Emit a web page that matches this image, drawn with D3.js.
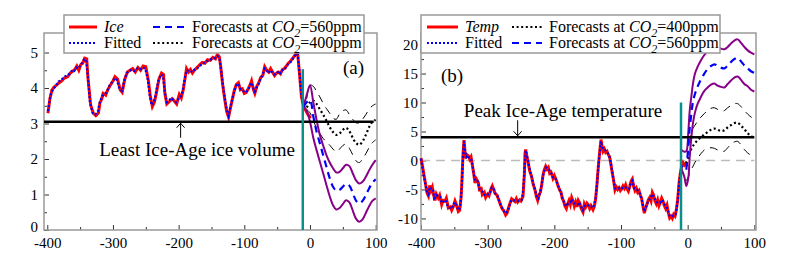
<!DOCTYPE html>
<html>
<head>
<meta charset="utf-8">
<script src="https://cdn.jsdelivr.net/npm/d3@7"></script>
<style>
  body { margin: 0; background: #fff; }
  svg, text { font-family: "Liberation Serif", "Times New Roman", serif; }
</style>
</head>
<body>
<svg id="chart" width="790" height="264"></svg>
<script>

// ---- panel (a): ice volume, [kyr, value]
var iceObs = [[-399,3.29],[-396,3.7],[-393,3.94],[-390,4.02],[-386,4.08],[-382,4.15],[-378,4.2],[-374,4.28],[-369,4.32],[-365,4.42],[-361,4.48],[-358,4.52],[-355,4.62],[-352,4.5],[-349,4.66],[-346,4.7],[-343,4.84],[-340,4.82],[-338,4.27],[-334,3.52],[-330,3.29],[-326,3.22],[-322,3.3],[-320,3.57],[-317,3.7],[-315,3.85],[-311,3.8],[-308,3.95],[-305,4.05],[-300,4.2],[-297,4.32],[-293,4.25],[-289,3.95],[-286,3.88],[-282,4.25],[-278,4.45],[-274,4.5],[-270,4.55],[-266,4.45],[-262,4.58],[-258,4.5],[-254,4.62],[-250,4.6],[-246,4.2],[-243,3.75],[-240,3.48],[-237,3.6],[-234,3.85],[-230,4.25],[-226,4.42],[-223,4.38],[-221,3.85],[-218,3.55],[-214,3.62],[-210,3.7],[-206,3.62],[-203,3.55],[-199,3.82],[-196,3.72],[-193,3.95],[-190,4.3],[-188,4.55],[-185,4.45],[-182,4.52],[-179,4.42],[-176,4.5],[-172,4.58],[-168,4.65],[-164,4.72],[-160,4.7],[-156,4.8],[-152,4.78],[-148,4.86],[-144,4.82],[-141,4.95],[-138,4.88],[-136,4.6],[-133,4.1],[-130,3.7],[-127,3.35],[-124,3.18],[-121,3.45],[-118,3.7],[-115,3.95],[-112,4.1],[-109,4.15],[-106,3.95],[-103,3.98],[-100,3.85],[-97,3.88],[-94,3.98],[-91,4.1],[-89,4.2],[-86,3.95],[-84,3.85],[-81,4.05],[-78,4.15],[-75,4.3],[-72,4.35],[-69,4.6],[-66,4.5],[-63,4.45],[-60,4.55],[-57,4.45],[-54,4.35],[-51,4.42],[-48,4.45],[-45,4.4],[-42,4.52],[-39,4.55],[-36,4.62],[-33,4.7],[-30,4.75],[-27,4.82],[-24,4.9],[-21,4.98],[-19,5.02],[-16,4.4],[-13,3.75],[-10,3.5],[-6,3.35],[-3,3.25],[1,3.15]];

var iceFit = [[-399,3.35],[-395,3.8],[-391,3.98],[-387,4.05],[-383,4.18],[-379,4.22],[-375,4.3],[-370,4.36],[-366,4.4],[-362,4.5],[-359,4.48],[-356,4.58],[-353,4.55],[-350,4.62],[-347,4.72],[-344,4.8],[-341,4.8],[-338,4.3],[-335,3.6],[-331,3.3],[-327,3.25],[-323,3.35],[-320,3.6],[-316,3.78],[-313,3.82],[-309,3.9],[-305,4.08],[-301,4.18],[-297,4.28],[-294,4.22],[-290,3.98],[-286,3.92],[-283,4.2],[-279,4.42],[-275,4.48],[-271,4.52],[-267,4.48],[-263,4.55],[-259,4.52],[-255,4.58],[-251,4.55],[-247,4.25],[-244,3.8],[-241,3.52],[-238,3.58],[-235,3.82],[-231,4.2],[-227,4.38],[-224,4.35],[-221,3.9],[-218,3.6],[-215,3.65],[-211,3.72],[-207,3.65],[-204,3.6],[-200,3.7],[-197,3.75],[-194,3.9],[-191,4.25],[-188,4.5],[-185,4.48],[-182,4.48],[-179,4.45],[-176,4.52],[-172,4.55],[-168,4.62],[-164,4.68],[-160,4.72],[-156,4.76],[-152,4.8],[-148,4.82],[-144,4.85],[-141,4.9],[-138,4.85],[-136,4.62],[-133,4.15],[-130,3.75],[-127,3.4],[-124,3.22],[-121,3.48],[-118,3.72],[-115,3.92],[-112,4.08],[-109,4.12],[-106,3.98],[-103,3.95],[-100,3.88],[-97,3.9],[-94,3.95],[-91,4.08],[-89,4.15],[-86,3.98],[-84,3.9],[-81,4.02],[-78,4.12],[-75,4.28],[-72,4.38],[-69,4.55],[-66,4.5],[-63,4.42],[-60,4.5],[-57,4.42],[-54,4.38],[-51,4.4],[-48,4.48],[-45,4.42],[-42,4.5],[-39,4.52],[-36,4.6],[-33,4.68],[-30,4.72],[-27,4.8],[-24,4.88],[-21,4.95],[-19,4.98],[-16,4.45],[-13,3.8],[-10,3.45]];

// forecast years shared by panel (a) forecasts
var iceYears = [-10,-5,0,5,10,15,20,25,30,35,40,45,50,55,60,65,70,75,80,85,90,95,100];
var ice560Hi  = [3.47,3.8,4.08,3.6,3.1,2.68,2.38,2.11,1.9,1.74,1.62,1.64,1.74,1.84,1.8,1.6,1.4,1.31,1.36,1.5,1.68,1.84,1.97];
var ice560    = [3.47,3.6,3.66,3.2,2.77,2.44,2.11,1.78,1.46,1.22,1.11,1.13,1.22,1.3,1.25,1.05,0.83,0.75,0.82,0.98,1.17,1.33,1.43];
var ice560Lo  = [3.47,3.35,3.05,2.6,2.25,1.92,1.6,1.27,0.95,0.7,0.58,0.62,0.73,0.84,0.78,0.55,0.32,0.23,0.3,0.48,0.67,0.82,0.89];
var ice400Hi  = [null,3.7,4.08,4.05,3.9,3.75,3.57,3.42,3.29,3.15,3.12,3.27,3.36,3.38,3.25,3.12,3.02,3.02,3.12,3.25,3.4,3.5,3.55];
var ice400    = [null,3.45,3.6,3.64,3.55,3.4,3.25,3.08,2.9,2.76,2.68,2.72,2.82,2.88,2.78,2.6,2.45,2.4,2.5,2.68,2.9,3.05,3.1];
var ice400Lo  = [null,3.4,3.3,3.1,2.86,2.72,2.58,2.48,2.39,2.28,2.2,2.28,2.38,2.42,2.3,2.12,1.95,1.9,2.0,2.15,2.32,2.46,2.54];

// ---- panel (b): temperature
var tempObs = [[-400,0.4],[-398,-0.8],[-396,-2.2],[-393,-4.2],[-391,-5.6],[-389,-6.1],[-387,-4.3],[-385,-5.2],[-383,-4.6],[-381,-6.0],[-379,-6.9],[-377,-5.8],[-374,-6.5],[-372,-6.0],[-369,-7.6],[-367,-6.9],[-364,-7.0],[-362,-6.5],[-359,-8.2],[-356,-8.0],[-354,-8.6],[-351,-7.8],[-349,-7.0],[-347,-7.6],[-344,-8.8],[-342,-8.6],[-340,-6.5],[-339,-4.5],[-337,1.0],[-335.5,3.5],[-334,1.5],[-333,0.4],[-331,1.0],[-329,0.8],[-327,0.2],[-325,0.6],[-323,-0.8],[-321,-2.2],[-319,-3.9],[-317,-3.2],[-314,-3.8],[-312,-5.3],[-310,-4.6],[-308,-5.9],[-305,-5.5],[-303,-6.4],[-300,-5.8],[-298,-6.1],[-295,-4.9],[-293,-4.4],[-291,-5.0],[-289,-5.7],[-286,-6.0],[-283,-6.9],[-281,-7.6],[-278,-8.4],[-276,-8.6],[-273,-9.4],[-271,-9.1],[-268,-7.9],[-266,-7.2],[-264,-6.6],[-262,-6.8],[-259,-7.1],[-257,-6.6],[-255,-7.2],[-252,-6.8],[-250,-7.0],[-247,-6.2],[-245,-2.5],[-244,1.2],[-243,1.9],[-241,0.6],[-239,-0.5],[-237,-1.8],[-234,-2.8],[-232,-4.0],[-229,-5.1],[-227,-6.2],[-225,-6.9],[-223,-6.0],[-221,-5.5],[-219,-4.3],[-217,-2.5],[-215,-1.6],[-213,-1.0],[-211,-1.5],[-209,-1.2],[-207,-2.2],[-205,-2.0],[-202,-3.1],[-200,-2.6],[-197,-3.4],[-195,-4.2],[-192,-5.1],[-190,-5.5],[-188,-6.6],[-186,-7.0],[-184,-7.9],[-182,-8.3],[-180,-7.5],[-178,-6.9],[-176,-7.6],[-174,-6.4],[-172,-7.0],[-170,-7.9],[-168,-7.2],[-166,-8.0],[-164,-6.9],[-162,-7.3],[-160,-8.2],[-157,-8.9],[-155,-7.5],[-153,-8.0],[-151,-7.4],[-149,-7.7],[-147,-8.3],[-145,-7.8],[-142,-8.5],[-140,-7.9],[-138,-6.6],[-136,-4.0],[-134,-1.0],[-132,1.5],[-130,3.6],[-128,2.2],[-127,1.6],[-125,2.0],[-123,1.4],[-121,1.6],[-119,1.0],[-117,0.6],[-115,-0.8],[-113,-2.2],[-111,-3.5],[-109,-5.1],[-107,-4.6],[-105,-5.0],[-103,-4.7],[-101,-5.2],[-99,-4.9],[-97,-4.4],[-95,-4.8],[-93,-4.2],[-91,-4.9],[-89,-5.3],[-87,-4.5],[-85,-3.6],[-83,-3.2],[-81,-4.5],[-79,-5.2],[-77,-4.8],[-75,-5.5],[-73,-5.2],[-71,-6.0],[-69,-6.6],[-67,-8.0],[-65,-9.1],[-63,-8.2],[-61,-7.5],[-59,-6.8],[-57,-6.4],[-55,-7.0],[-53,-5.5],[-51,-6.0],[-49,-7.0],[-47,-7.5],[-45,-6.8],[-43,-7.8],[-41,-7.2],[-39,-6.5],[-37,-7.0],[-35,-7.8],[-33,-8.3],[-31,-7.7],[-29,-9.0],[-27,-9.9],[-25,-9.6],[-23,-10.0],[-21,-9.3],[-19,-9.6],[-17,-8.5],[-15,-6.8],[-13,-4.0],[-11,-2.2],[-9,-1.0],[-7,-0.4],[-5,-0.8],[-3,-0.5],[-1,-1.0]];

var tempFit = [[-400,0.3],[-397,-1.8],[-394,-3.8],[-391,-5.4],[-389,-5.8],[-387,-4.6],[-384,-5.0],[-382,-5.0],[-380,-6.5],[-377,-6.0],[-374,-6.3],[-371,-6.3],[-369,-7.3],[-366,-7.1],[-363,-6.8],[-360,-7.9],[-357,-8.2],[-354,-8.3],[-351,-7.5],[-349,-7.2],[-346,-8.1],[-343,-8.6],[-341,-7.8],[-339,-4.8],[-337,0.6],[-335.5,3.3],[-334,1.7],[-332,0.6],[-330,0.9],[-328,0.5],[-325,0.4],[-323,-0.6],[-320,-2.9],[-318,-3.6],[-315,-3.6],[-312,-5.0],[-309,-5.2],[-306,-5.8],[-303,-6.1],[-300,-5.9],[-297,-5.8],[-294,-4.7],[-291,-4.8],[-288,-5.8],[-285,-6.2],[-282,-7.2],[-279,-8.0],[-276,-8.7],[-273,-9.1],[-270,-8.8],[-267,-7.7],[-264,-6.8],[-261,-6.9],[-258,-6.9],[-255,-7.0],[-252,-6.9],[-249,-6.8],[-247,-5.5],[-245,-2.2],[-243,1.7],[-241,0.8],[-238,-0.9],[-235,-2.4],[-232,-3.8],[-229,-5.0],[-226,-6.4],[-224,-6.6],[-221,-5.3],[-218,-3.5],[-216,-2.1],[-213,-1.2],[-211,-1.3],[-208,-1.6],[-205,-2.1],[-202,-2.9],[-199,-2.9],[-196,-3.8],[-193,-4.8],[-190,-5.6],[-187,-6.8],[-184,-7.6],[-182,-7.9],[-179,-7.3],[-176,-7.2],[-174,-6.7],[-171,-7.4],[-168,-7.4],[-165,-7.6],[-163,-7.2],[-160,-7.9],[-157,-8.6],[-154,-7.8],[-151,-7.6],[-148,-7.9],[-145,-7.9],[-142,-8.2],[-140,-7.6],[-138,-6.4],[-136,-4.2],[-134,-1.2],[-132,1.3],[-130,3.3],[-128,2.3],[-126,1.8],[-124,1.8],[-122,1.5],[-120,1.3],[-117,0.5],[-115,-0.6],[-113,-2.0],[-111,-3.4],[-109,-4.8],[-106,-4.8],[-103,-4.8],[-100,-5.0],[-97,-4.6],[-94,-4.6],[-91,-4.8],[-88,-4.9],[-85,-3.8],[-83,-3.5],[-80,-4.8],[-77,-4.9],[-74,-5.3],[-71,-5.8],[-68,-7.2],[-65,-8.8],[-62,-7.9],[-59,-6.9],[-56,-6.6],[-53,-5.8],[-50,-6.4],[-47,-7.2],[-44,-7.2],[-41,-7.3],[-38,-6.8],[-35,-7.5],[-32,-8.0],[-29,-8.8],[-27,-9.6],[-24,-9.7],[-21,-9.4],[-18,-9.3],[-15,-7.0],[-13,-4.2],[-11,-2.4],[-9,-1.2],[-7,-0.6]];

var tempYears  = [-10,-5,-2,1,3,6,8,11,15,20,25,30,35,40,45,50,55,60,65,70,75,80,85,90,95,100];
var temp560Hi  = [1.85,1.5,1.6,5.0,8.5,11.5,13.3,15.0,16.2,17.3,18.2,18.9,19.5,19.9,19.7,19.3,19.2,19.6,20.2,20.7,20.9,20.3,19.6,19.0,18.6,18.3];
var temp560    = [null,null,-1.6,2.4,5.5,8.5,10.2,11.5,12.8,14.0,15.0,15.8,16.3,16.6,16.3,16.0,15.9,16.4,17.0,17.5,17.7,17.1,16.4,15.9,15.4,15.1];
var temp560Lo  = [-1.3,-2.8,-4.4,-3.0,0.5,4.5,6.5,8.3,9.8,11.0,12.0,12.6,13.1,13.3,12.9,12.7,12.6,13.2,13.8,14.3,14.5,13.9,13.2,12.8,12.2,11.9];
var temp400Hi  = [null,null,null,null,3.0,5.0,5.6,6.1,6.8,7.5,8.1,8.6,9.0,9.1,8.8,8.5,8.6,9.1,9.5,9.8,9.8,9.3,8.6,8.0,7.5,7.2];
var temp400    = [null,null,-0.5,0.5,1.3,2.1,2.5,3.0,3.5,4.0,4.5,4.9,5.3,5.5,5.3,5.1,5.2,5.7,6.1,6.45,6.5,6.0,5.4,4.7,4.2,3.9];
var temp400Lo  = [null,null,-3.5,-2.8,-2.2,-1.4,-1.0,-0.3,0.4,1.2,1.8,2.1,2.2,2.1,1.8,1.6,1.6,2.2,2.8,3.2,3.3,2.7,1.9,1.3,0.9,0.7];

var xTicks = [-400,-300,-200,-100,0,100];
var xMinor = [-350,-250,-150,-50,50];

var svg = d3.select("#chart");

var RED = "#ff0000", BLUE = "#0000ff", PURPLE = "#880088", TEAL = "#0a8f8a";

var styles = {
  obs:   {stroke: RED, width: 3, dash: null},
  fit:   {stroke: BLUE, width: 2.2, dash: "2,2"},
  hi:    {stroke: PURPLE, width: 2, dash: null},
  mid:   {stroke: BLUE, width: 2.2, dash: "7,5"},
  dot:   {stroke: "#000", width: 2.2, dash: "2,2.6"},
  thin:  {stroke: "#000", width: 1, dash: "8,6"}
};

function styled(sel, s) {
  sel.attr("fill", "none")
    .attr("stroke", s.stroke)
    .attr("stroke-width", s.width)
    .attr("stroke-dasharray", s.dash);
  return sel;
}

function drawPanel(p) {
  var g = svg.append("g");
  var x = d3.scaleLinear().domain(p.xDomain).range([p.left, p.right]);
  var y = d3.scaleLinear().domain(p.yDomain).range([p.bottom, p.top]);

  var line = d3.line().x(function(d) { return x(d[0]); }).y(function(d) { return y(d[1]); });
  var smooth = d3.line()
    .defined(function(d) { return d[1] != null; })
    .x(function(d) { return x(d[0]); })
    .y(function(d) { return y(d[1]); })
    .curve(d3.curveCatmullRom);

  // axes (ticks point inwards)
  var fmt = function(d) { return String(d); };
  g.append("g").attr("transform", "translate(0," + p.bottom + ")")
    .call(d3.axisBottom(x).tickValues(xTicks).tickSizeInner(-5).tickSizeOuter(0).tickPadding(7).tickFormat(fmt));
  g.append("g").attr("transform", "translate(0," + p.bottom + ")")
    .call(d3.axisBottom(x).tickValues(xMinor).tickSizeInner(-3).tickSizeOuter(0).tickFormat(""));
  var yAx = g.append("g").attr("transform", "translate(" + p.left + ",0)")
    .call(d3.axisLeft(y).tickValues(p.yTicks).tickSizeInner(-5).tickSizeOuter(0).tickPadding(p.yPad).tickFormat(fmt));
  g.append("g").attr("transform", "translate(" + p.left + ",0)")
    .call(d3.axisLeft(y).tickValues(p.yMinor).tickSizeInner(-3).tickSizeOuter(0).tickFormat(""));
  g.selectAll(".domain").remove();
  g.selectAll(".tick line").attr("stroke", "#333");
  g.selectAll(".tick text").attr("font-size", 15).attr("fill", "#000")
    .attr("font-family", "'Liberation Serif', serif");
  // a label sitting on the bottom corner is nudged up so it clears the x labels
  yAx.selectAll(".tick text").filter(function(d) { return d === p.yDomain[0]; })
    .attr("dy", "0.1em");

  g.append("rect")
    .attr("x", p.left).attr("y", p.top)
    .attr("width", p.right - p.left).attr("height", p.bottom - p.top)
    .attr("fill", "none").attr("stroke", "#9a9a9a").attr("stroke-width", 1.5);

  if (p.zeroLine) {
    g.append("line")
      .attr("x1", x(-400)).attr("x2", x(100))
      .attr("y1", y(0)).attr("y2", y(0))
      .attr("stroke", "#bbb").attr("stroke-width", 1.5).attr("stroke-dasharray", "9,6");
  }

  // observed + fitted
  styled(g.append("path").attr("d", line(p.obs)), styles.obs);
  styled(g.append("path").attr("d", line(p.fit)), styles.fit);

  // forecasts
  p.forecasts.forEach(function(f) {
    var pts = p.years.map(function(t, i) { return [t, f.values[i]]; });
    styled(g.append("path").attr("d", smooth(pts)), styles[f.style]);
  });

  // reference level line
  g.append("line")
    .attr("x1", x(p.level.from)).attr("x2", x(p.level.to))
    .attr("y1", y(p.level.value)).attr("y2", y(p.level.value))
    .attr("stroke", "#000").attr("stroke-width", 2.6);

  // present-day marker
  g.append("line")
    .attr("x1", x(p.marker.t)).attr("x2", x(p.marker.t))
    .attr("y1", y(p.marker.top)).attr("y2", y(p.yDomain[0]))
    .attr("stroke", TEAL).attr("stroke-width", 2.5);

  // arrow + annotation
  var ax0 = x(p.arrow.t), ya = y(p.level.value), yb = ya + p.arrow.len;
  g.append("line").attr("x1", ax0).attr("x2", ax0).attr("y1", ya).attr("y2", yb)
    .attr("stroke", "#000").attr("stroke-width", 1);
  var dir = p.arrow.len > 0 ? 1 : -1;
  g.append("path")
    .attr("d", "M" + (ax0 - 4) + "," + (ya + dir * 6) + "L" + ax0 + "," + (ya + dir * 1.5) + "L" + (ax0 + 4) + "," + (ya + dir * 6))
    .attr("fill", "none").attr("stroke", "#000").attr("stroke-width", 1);
  g.append("text").attr("x", p.note.x).attr("y", p.note.y)
    .attr("text-anchor", "middle").attr("font-size", 19).text(p.note.text);

  g.append("text").attr("x", p.tag.x).attr("y", p.tag.y)
    .attr("font-size", 19).text(p.tag.text);

  // legend
  var lg = g.append("g");
  lg.append("rect")
    .attr("x", p.legend.x).attr("y", p.legend.y)
    .attr("width", p.legend.w).attr("height", p.legend.h)
    .attr("fill", "#fff").attr("stroke", "#9a9a9a").attr("stroke-width", 1.5);
  p.legend.items.forEach(function(it) {
    var ly = p.legend.y + (it.row === 0 ? 12 : 28);
    styled(lg.append("line")
      .attr("x1", it.x).attr("x2", it.x + it.len)
      .attr("y1", ly).attr("y2", ly), styles[it.style]);
    var t = lg.append("text").attr("x", it.x + it.len + 7).attr("y", ly + 5).attr("font-size", 16);
    if (it.co2) {
      t.append("tspan").text("Forecasts at ");
      t.append("tspan").attr("font-style", "italic").text("CO");
      t.append("tspan").attr("font-style", "italic").attr("font-size", 12).attr("dy", 5).text("2");
      t.append("tspan").attr("dy", -5).text("=" + it.co2 + "ppm");
    } else {
      t.attr("font-style", it.italic ? "italic" : null).text(it.label);
    }
  });
}

drawPanel({
  left: 44, right: 377, top: 33, bottom: 230,
  xDomain: [-405, 102], yDomain: [0, 5.55],
  yTicks: [0, 1, 2, 3, 4, 5], yMinor: [0.5, 1.5, 2.5, 3.5, 4.5], yPad: 6,
  obs: iceObs, fit: iceFit, years: iceYears,
  forecasts: [
    {values: ice400Hi, style: "thin"},
    {values: ice400Lo, style: "thin"},
    {values: ice400, style: "dot"},
    {values: ice560Hi, style: "hi"},
    {values: ice560Lo, style: "hi"},
    {values: ice560, style: "mid"}
  ],
  level: {value: 3.05, from: -405, to: 97},
  marker: {t: -11, top: 4.53},
  arrow: {t: -197, len: 16},
  note: {x: 197, y: 156, text: "Least Ice-Age ice volume"},
  tag: {x: 343, y: 74, text: "(a)"},
  legend: {x: 64, y: 15, w: 300, h: 38, items: [
    {row: 0, x: 69, len: 28, style: "obs", label: "Ice", italic: true},
    {row: 1, x: 69, len: 28, style: "fit", label: "Fitted"},
    {row: 0, x: 153, len: 32, style: "mid", co2: 560},
    {row: 1, x: 153, len: 32, style: "dot", co2: 400}
  ]}
});

drawPanel({
  left: 421, right: 756, top: 33, bottom: 230,
  xDomain: [-400, 102.5], yDomain: [-12, 22],
  yTicks: [-10, -5, 0, 5, 10, 15, 20], yMinor: [-7.5, -2.5, 2.5, 7.5, 12.5, 17.5], yPad: 3,
  zeroLine: true,
  obs: tempObs, fit: tempFit, years: tempYears,
  forecasts: [
    {values: temp400Hi, style: "thin"},
    {values: temp400Lo, style: "thin"},
    {values: temp400, style: "dot"},
    {values: temp560Hi, style: "hi"},
    {values: temp560Lo, style: "hi"},
    {values: temp560, style: "mid"}
  ],
  level: {value: 4, from: -400, to: 100},
  marker: {t: -10, top: 10},
  arrow: {t: -255, len: -17},
  note: {x: 563, y: 117, text: "Peak Ice-Age temperature"},
  tag: {x: 441, y: 82, text: "(b)"},
  legend: {x: 421, y: 15, w: 299, h: 38, items: [
    {row: 0, x: 427, len: 31, style: "obs", label: "Temp", italic: true},
    {row: 1, x: 427, len: 31, style: "fit", label: "Fitted"},
    {row: 0, x: 512, len: 30, style: "dot", co2: 400},
    {row: 1, x: 512, len: 30, style: "mid", co2: 560}
  ]}
});

</script>
</body>
</html>
